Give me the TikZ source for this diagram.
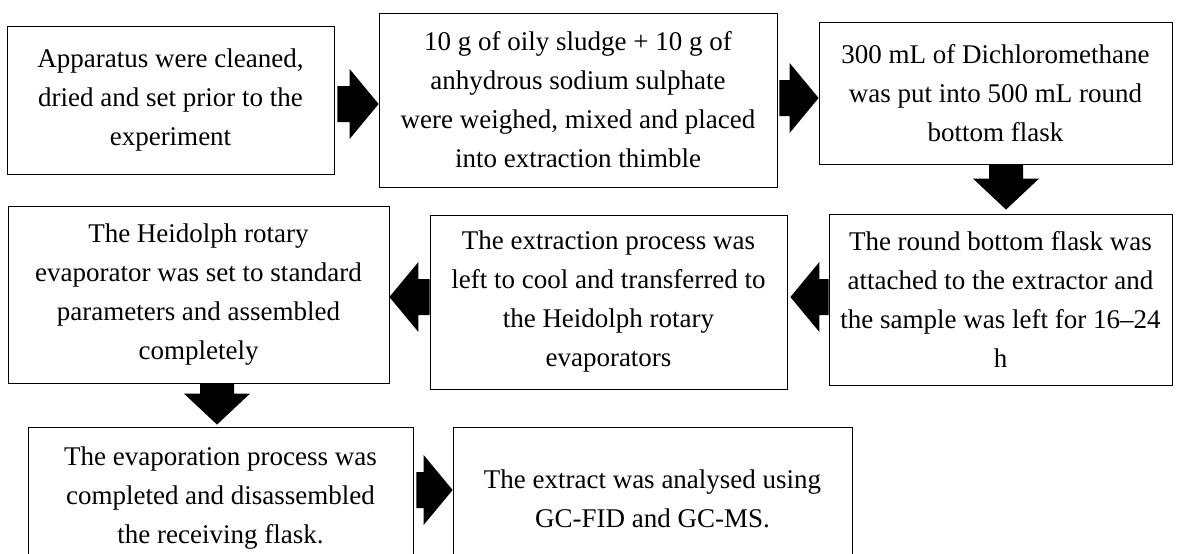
\documentclass[tikz,border=0pt]{standalone}
\usepackage{fontspec}
\setmainfont{Liberation Serif}
\usetikzlibrary{calc}
\newcommand\rightblk[2]{\fill ($(#1)+(0,-18)$) -- ($(#2)+(-29,-18)$) -- ($(#2)+(-29,-35)$) -- (#2) -- ($(#2)+(-29,35)$) -- ($(#2)+(-29,18)$) -- ($(#1)+(0,18)$) -- cycle;}
\newcommand\leftblk[2]{\fill ($(#1)+(0,-18)$) -- ($(#2)+(29,-18)$) -- ($(#2)+(29,-35)$) -- (#2) -- ($(#2)+(29,35)$) -- ($(#2)+(29,18)$) -- ($(#1)+(0,18)$) -- cycle;}
\newcommand\downblk[2]{\fill ($(#1)+(-17,0)$) -- ($(#2)+(-17,-31)$) -- ($(#2)+(-33,-31)$) -- (#2) -- ($(#2)+(33,-31)$) -- ($(#2)+(17,-31)$) -- ($(#1)+(17,0)$) -- cycle;}
\begin{document}
\begin{tikzpicture}[x=1pt,y=-1pt,
  box/.style={draw=black, line width=0.8pt, inner sep=0pt, align=center,
    font=\fontsize{27}{39}\selectfont}]
\useasboundingbox (0,0) rectangle (1178,554);
\clip (0,0) rectangle (1178,554);
\node[box, minimum width=327pt, minimum height=148pt] (b1) at (170.5,100)
  {Apparatus were cleaned,\\ dried and set prior to the\\ experiment};
\node[box, minimum width=398pt, minimum height=174pt] (b2) at (578,100)
  {10 g of oily sludge + 10 g of\\ anhydrous sodium sulphate\\ were weighed, mixed and placed\\ into extraction thimble};
\node[box, minimum width=353pt, minimum height=142pt] (b3) at (995.5,93)
  {300 mL of Dichloromethane\\ was put into 500 mL round\\ bottom flask};
\node[box, minimum width=343pt, minimum height=171pt] (b4) at (1000.5,299.5)
  {The round bottom flask was\\ attached to the extractor and\\ the sample was left for 16–24\\ h};
\node[box, minimum width=357pt, minimum height=174pt] (b5) at (608.5,302)
  {The extraction process was\\ left to cool and transferred to\\ the Heidolph rotary\\ evaporators};
\node[box, minimum width=381pt, minimum height=177pt] (b6) at (198.5,294.5)
  {The Heidolph rotary\\ evaporator was set to standard\\ parameters and assembled\\ completely};
\node[box, minimum width=385pt, minimum height=143pt] (b7) at (220.5,498.5)
  {The evaporation process was\\ completed and disassembled\\ the receiving flask.};
\node[box, minimum width=399pt, minimum height=143pt] (b8) at (652.5,498.5)
  {The extract was analysed using\\ GC-FID and GC-MS.};
% connector end points
\coordinate (a1s) at ($(b1.east)+(3,4)$);
\coordinate (a1e) at ($(b2.west)+(0,4)$);
\coordinate (a2s) at ($(b2.east)+(2,-2)$);
\coordinate (a2e) at ($(b3.west)+(0,5)$);
\coordinate (a3s) at ($(b3.south)+(10.5,0)$);
\coordinate (a3e) at ($(b4.north)+(5.5,-4)$);
\coordinate (a4s) at ($(b4.west)+(0,-2.5)$);
\coordinate (a4e) at ($(b5.east)+(3,-5)$);
\coordinate (a5s) at ($(b5.west)+(0,-5)$);
\coordinate (a5e) at ($(b6.east)+(0,2.5)$);
\coordinate (a6s) at ($(b6.south)+(18.5,0)$);
\coordinate (a6e) at ($(b7.north)+(-3.5,-2)$);
\coordinate (a7s) at ($(b7.east)+(3,-8.5)$);
\coordinate (a7e) at ($(b8.west)+(0,-8.5)$);
\rightblk{a1s}{a1e}
\rightblk{a2s}{a2e}
\downblk{a3s}{a3e}
\leftblk{a4s}{a4e}
\leftblk{a5s}{a5e}
\downblk{a6s}{a6e}
\rightblk{a7s}{a7e}
\end{tikzpicture}
\end{document}
